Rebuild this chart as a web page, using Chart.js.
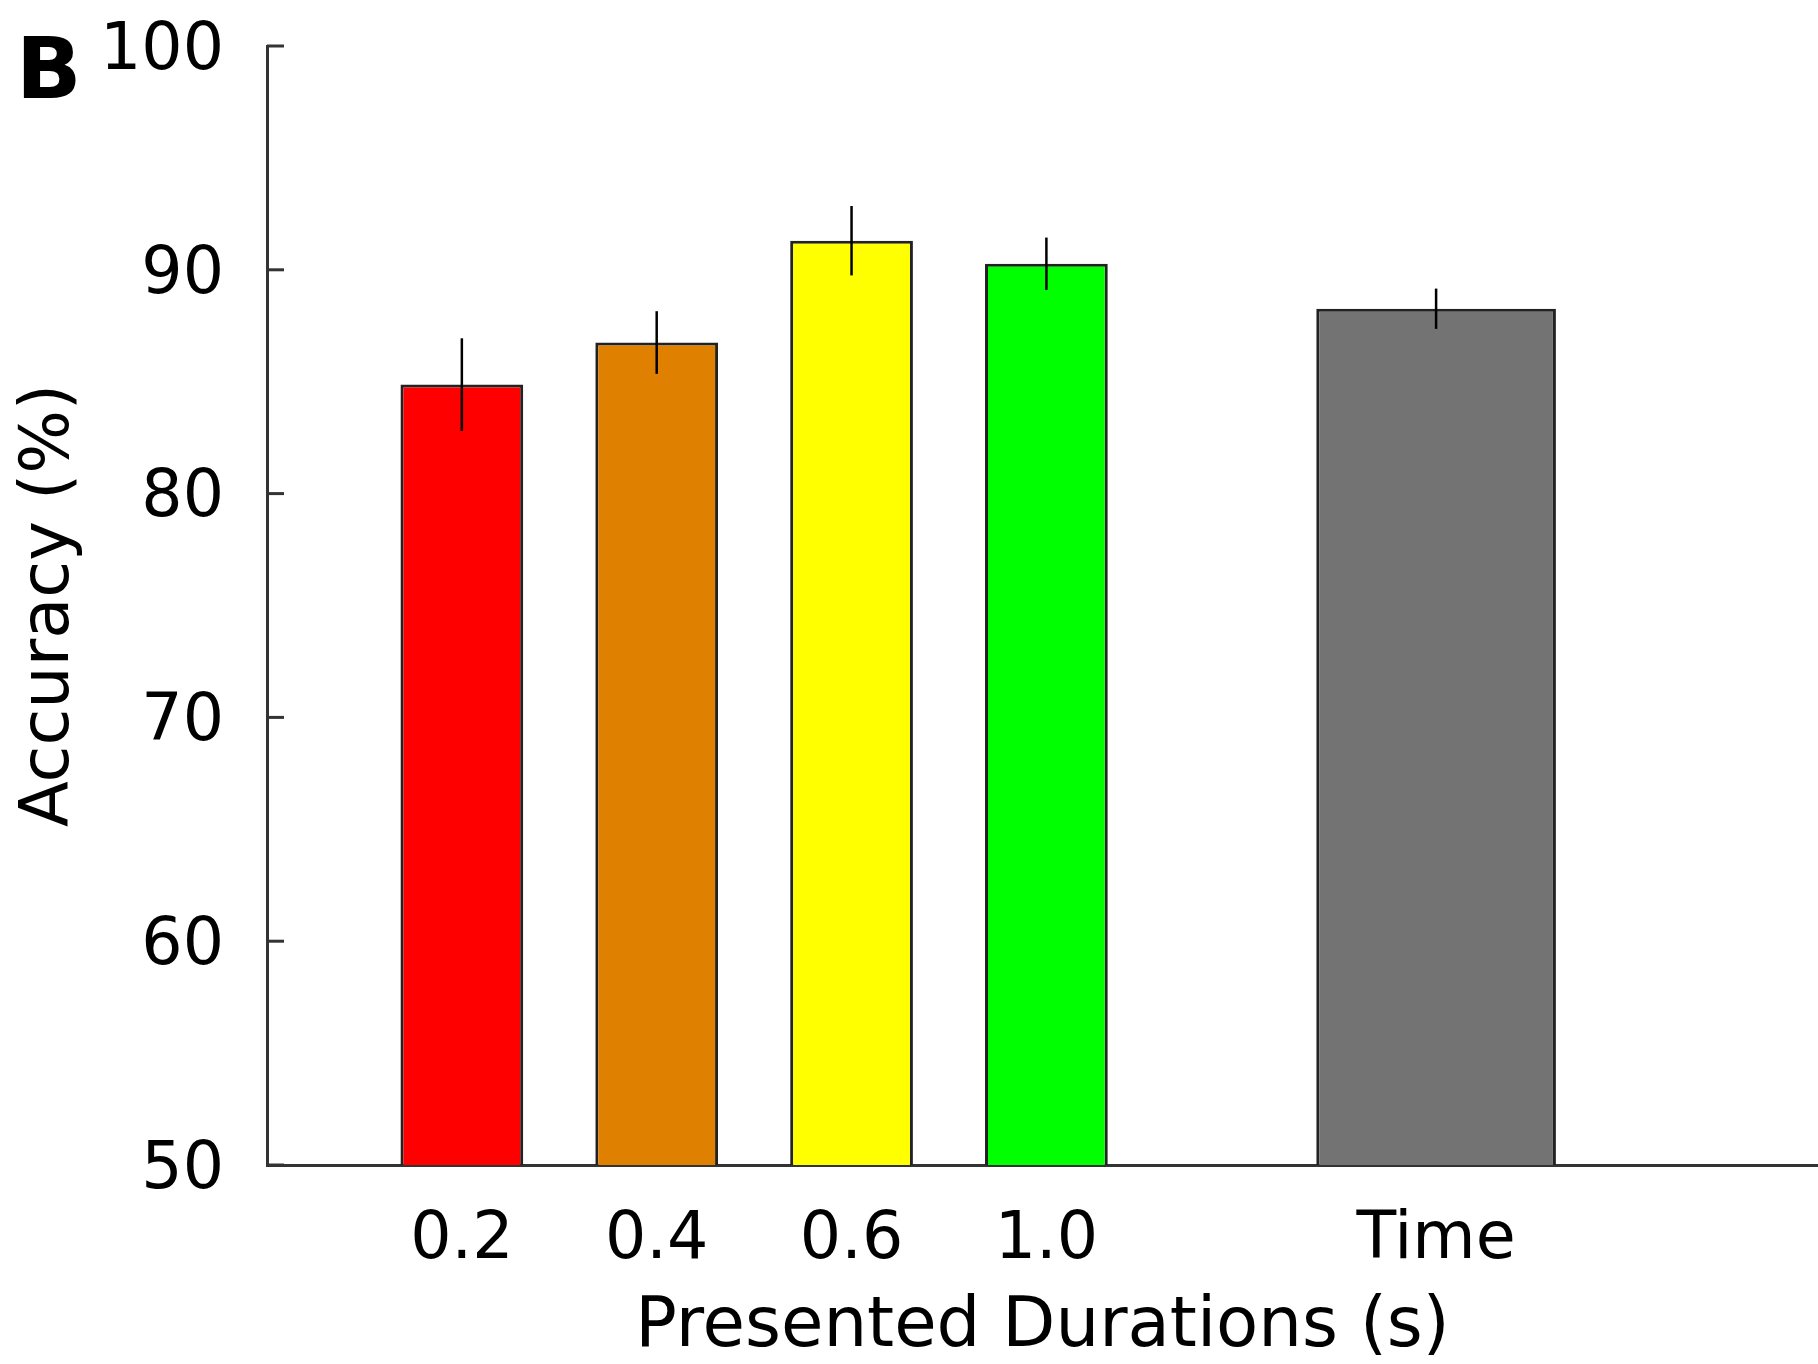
<!DOCTYPE html>
<html>
<head>
<meta charset="utf-8">
<script src="https://cdn.jsdelivr.net/npm/chart.js@4/dist/chart.umd.min.js"></script>
<style>
  body { margin: 0; background: #fff; }
  #wrap { position: relative; width: 1818px; height: 1364px; }
  #panel { position: absolute; left: 16px; top: 25px; font: bold 86px 'DejaVu Sans'; line-height: 1; color: #000; }
</style>
</head>
<body>
<div id="wrap">
  <canvas id="grafico" width="1818" height="1364"></canvas>
  <div id="panel">B</div>
</div>
<script>
// posições no eixo x (o "Time" fica separado)
const posicoes = [1, 2, 3, 4, 6]
const rotulos = ['0.2', '0.4', '0.6', '1.0', 'Time']
const acuracia = [84.87, 86.75, 91.3, 90.27, 88.26]
const erro = [2.07, 1.4, 1.55, 1.17, 0.9]
const cores = ['#ff0000', '#e08000', '#ffff00', '#00ff00', '#737373']
const ticksY = [50, 60, 70, 80, 90, 100]

const pontos = posicoes.map((x, i) => ({ x: x, y: acuracia[i] }))

// barras de erro + marcas de tick para dentro
const barrasErro = {
    id: 'barrasErro',
    afterDatasetsDraw(chart) {
        const ctx = chart.ctx
        const y = chart.scales.y
        ctx.save()
        ctx.strokeStyle = '#000'
        ctx.lineWidth = 2.5
        chart.data.datasets.forEach((ds, d) => {
            const meta = chart.getDatasetMeta(d)
            meta.data.forEach((bar, j) => {
                const i = ds.indices[j]
                ctx.beginPath()
                ctx.moveTo(bar.x, y.getPixelForValue(acuracia[i] + erro[i]))
                ctx.lineTo(bar.x, y.getPixelForValue(acuracia[i] - erro[i]))
                ctx.stroke()
            })
        })
        ctx.strokeStyle = '#333'
        ctx.lineWidth = 3
        y.ticks.forEach(t => {
            const py = y.getPixelForValue(t.value)
            ctx.beginPath()
            ctx.moveTo(y.right, py)
            ctx.lineTo(y.right + 17, py)
            ctx.stroke()
        })
        ctx.restore()
    }
}

Chart.defaults.font.family = 'DejaVu Sans'
Chart.defaults.color = '#000'

new Chart(document.getElementById('grafico'), {
    type: 'bar',
    data: {
        datasets: [{
            data: pontos.slice(0, 4),
            indices: [0, 1, 2, 3],
            backgroundColor: cores.slice(0, 4),
            barPercentage: 0.63,
            categoryPercentage: 1
        }, {
            data: pontos.slice(4),
            indices: [4],
            backgroundColor: cores.slice(4),
            barPercentage: 1.23,
            categoryPercentage: 1
        }]
    },
    options: {
        responsive: false,
        animation: false,
        datasets: { bar: { grouped: false, borderColor: '#222', borderWidth: 3 } },
        layout: { padding: { top: 46, right: 0, left: 0, bottom: 0 } },
        plugins: { legend: { display: false }, tooltip: { enabled: false } },
        scales: {
            x: {
                type: 'linear',
                min: 0,
                max: 7.96,
                offset: false,
                afterFit: s => { s.height = 199 },
                afterBuildTicks: s => { s.ticks = posicoes.map(v => ({ value: v })) },
                grid: { display: false },
                border: { color: '#333', width: 3 },
                ticks: {
                    autoSkip: false,
                    maxRotation: 0,
                    padding: 29,
                    font: { size: 65 },
                    callback: v => rotulos[posicoes.indexOf(v)]
                },
                title: {
                    display: true,
                    text: 'Presented Durations (s)',
                    font: { size: 69 },
                    padding: { top: 0, bottom: -5 }
                }
            },
            y: {
                min: 50,
                max: 100,
                afterFit: s => { s.width = 267; s.paddingTop = 0; s.paddingBottom = 0 },
                afterBuildTicks: s => { s.ticks = ticksY.map(v => ({ value: v })) },
                grid: { display: false },
                border: { color: '#333', width: 3 },
                ticks: { padding: 35, labelOffset: 6, font: { size: 65 } },
                title: {
                    display: true,
                    text: 'Accuracy (%)',
                    font: { size: 67 },
                    padding: { top: 10, bottom: 0 }
                }
            }
        }
    },
    plugins: [barrasErro]
})
</script>
</body>
</html>
